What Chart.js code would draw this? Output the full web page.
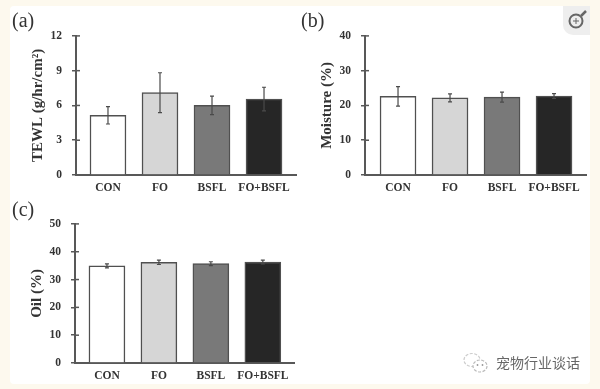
<!DOCTYPE html>
<html>
<head>
<meta charset="utf-8">
<script src="https://cdn.jsdelivr.net/npm/chart.js@4"></script>
<style>
  html, body { margin: 0; padding: 0; background: #fdf9ee; }
  #page { position: relative; width: 600px; height: 389px; overflow: hidden; }
  #card { position: absolute; left: 10px; top: 6px; width: 580px; height: 378px; background: #fff; border-radius: 4px; }
  .box { position: absolute; filter: blur(0.45px); }
  .box canvas { display: block; }
  .tag { position: absolute; font: 20px "Liberation Serif", serif; color: #333; filter: blur(0.3px); }
  #brand { position: absolute; left: 496px; top: 352px; font: 14px "Noto Sans CJK SC", sans-serif; color: #666; filter: blur(0.4px); }
  #wx { position: absolute; left: 462px; top: 351px; }
  #lens { position: absolute; left: 563px; top: 6px; width: 27px; height: 29px; background: #eee; border-bottom-left-radius: 10px; }
</style>
</head>
<body>
<div id="page">
  <div id="card"></div>
  <div class="tag" style="left:12px;top:9px">(a)</div>
  <div class="tag" style="left:301px;top:9px">(b)</div>
  <div class="tag" style="left:12px;top:198px">(c)</div>
  <div class="box" style="left:28px;top:19px;width:272px;height:175px"><canvas id="chartA" width="272" height="175"></canvas></div>
  <div class="box" style="left:317px;top:19px;width:273px;height:175px"><canvas id="chartB" width="273" height="175"></canvas></div>
  <div class="box" style="left:27px;top:207px;width:271px;height:175px"><canvas id="chartC" width="271" height="175"></canvas></div>
  <div id="lens">
    <svg width="27" height="29" viewBox="0 0 27 29">
      <circle cx="13" cy="15" r="6.5" fill="none" stroke="#666" stroke-width="2"/>
      <path d="M18 10 L23 5" stroke="#666" stroke-width="2.5"/>
      <path d="M10 15 H16 M13 12 V18" stroke="#666" stroke-width="1"/>
    </svg>
  </div>
  <svg id="wx" width="30" height="24" viewBox="0 0 30 24">
    <ellipse cx="10" cy="9" rx="8" ry="6.5" fill="none" stroke="#ccc" stroke-width="1.2" stroke-dasharray="3 1.5"/>
    <ellipse cx="18" cy="15" rx="7" ry="6" fill="#fff" stroke="#bbb" stroke-width="1.2" stroke-dasharray="3 1.5"/>
    <circle cx="15.5" cy="14" r="0.9" fill="#999"/><circle cx="20.5" cy="14" r="0.9" fill="#999"/>
  </svg>
  <div id="brand">宠物行业谈话</div>
</div>

<script>
// values
const groups = ["CON", "FO", "BSFL", "FO+BSFL"];
const barColors = ["#ffffff", "#d6d6d6", "#797979", "#262626"];

const tewl = [5.15, 7.1, 6.0, 6.55];
const tewlErr = [0.75, 1.72, 0.8, 1.02];
const moisture = [22.6, 22.2, 22.4, 22.7];
const moistureErr = [2.8, 1.15, 1.45, 0.7];
const oil = [34.9, 36.2, 35.7, 36.3];
const oilErr = [0.7, 0.8, 0.7, 0.7];

const AXIS = "#585858";
const INK = "#333";
const serif = "'Liberation Serif', serif";

// error bars + the little inner half of the y ticks
const extras = {
  id: "extras",
  afterDatasetsDraw(chart, args, opts) {
    const { ctx, scales: { x, y } } = chart;
    ctx.save();
    ctx.strokeStyle = AXIS;
    ctx.lineWidth = 1.5;
    y.ticks.forEach((t) => {
      const py = y.getPixelForValue(t.value);
      ctx.beginPath(); ctx.moveTo(x.left, py); ctx.lineTo(x.left + 4, py); ctx.stroke();
    });
    ctx.strokeStyle = "#4a4a4a";
    ctx.lineWidth = 1.2;
    opts.err.forEach((e, i) => {
      const v = chart.data.datasets[0].data[i].y;
      const px = x.getPixelForValue(i);
      const hi = y.getPixelForValue(v + e), lo = y.getPixelForValue(v - e);
      ctx.beginPath();
      ctx.moveTo(px, hi); ctx.lineTo(px, lo);
      ctx.moveTo(px - 2, hi); ctx.lineTo(px + 2, hi);
      ctx.moveTo(px - 2, lo); ctx.lineTo(px + 2, lo);
      ctx.stroke();
    });
    ctx.restore();
  },
};

function newPanel(id, label, values, errs, yMax, yStep, xMin, xMax, yWidth) {
  return new Chart(document.getElementById(id), {
    type: "bar",
    data: {
      datasets: [{
        data: values.map((v, i) => ({ x: i, y: v })),
        backgroundColor: barColors,
        borderColor: "#505050",
        borderWidth: 1.5,
        barThickness: 36,
      }],
    },
    plugins: [extras],
    options: {
      responsive: false,
      animation: false,
      layout: { padding: { top: 4, right: 4, left: 0, bottom: 0 } },
      plugins: { legend: { display: false }, tooltip: { enabled: false }, extras: { err: errs } },
      scales: {
        x: {
          type: "linear",
          offset: false,
          min: xMin,
          max: xMax,
          afterBuildTicks: (s) => { s.ticks = groups.map((g, i) => ({ value: i })); },
          afterFit: (s) => { s.height = 19; },
          grid: { display: false, drawTicks: false },
          border: { color: AXIS, width: 2 },
          ticks: {
            autoSkip: false, maxRotation: 0, padding: 6, color: INK,
            font: { family: serif, size: 11.5, weight: "bold" },
            callback: (v) => groups[v],
          },
        },
        y: {
          min: 0,
          max: yMax,
          afterFit: (s) => { s.width = yWidth; },
          grid: { drawOnChartArea: false, color: AXIS, lineWidth: 1.5, tickLength: 4 },
          border: { color: AXIS, width: 2 },
          ticks: { stepSize: yStep, padding: 10, color: INK, font: { family: serif, size: 11.5, weight: "bold" } },
          title: { display: true, text: label, color: INK, padding: { top: 1, bottom: 0 }, font: { family: serif, size: 15, weight: "bold" } },
        },
      },
    },
  });
}

newPanel("chartA", "TEWL (g/hr/cm²)", tewl, tewlErr, 12, 3, -0.615, 3.615, 48);
newPanel("chartB", "Moisture (%)", moisture, moistureErr, 40, 10, -0.635, 3.615, 48);
newPanel("chartC", "Oil (%)", oil, oilErr, 50, 10, -0.615, 3.6, 48);
</script>
</body>
</html>
